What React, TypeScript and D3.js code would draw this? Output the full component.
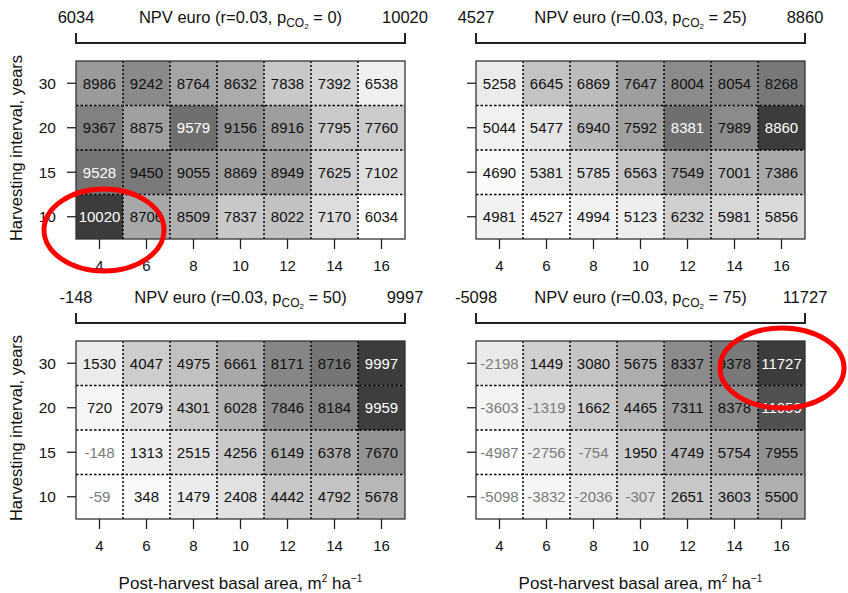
import React from "react";
import * as d3 from "d3";

// chart data
const basalArea = [4, 6, 8, 10, 12, 14, 16];
const intervals = ["30", "20", "15", "10"];
const co2Prices = ["0", "25", "50", "75"];

// rows: 30, 20, 15, 10 years
const npvP0 = [
  [8986, 9242, 8764, 8632, 7838, 7392, 6538],
  [9367, 8875, 9579, 9156, 8916, 7795, 7760],
  [9528, 9450, 9055, 8869, 8949, 7625, 7102],
  [10020, 8706, 8509, 7837, 8022, 7170, 6034],
];
const npvP25 = [
  [5258, 6645, 6869, 7647, 8004, 8054, 8268],
  [5044, 5477, 6940, 7592, 8381, 7989, 8860],
  [4690, 5381, 5785, 6563, 7549, 7001, 7386],
  [4981, 4527, 4994, 5123, 6232, 5981, 5856],
];
const npvP50 = [
  [1530, 4047, 4975, 6661, 8171, 8716, 9997],
  [720, 2079, 4301, 6028, 7846, 8184, 9959],
  [-148, 1313, 2515, 4256, 6149, 6378, 7670],
  [-59, 348, 1479, 2408, 4442, 4792, 5678],
];
const npvP75 = [
  [-2198, 1449, 3080, 5675, 8337, 9378, 11727],
  [-3603, -1319, 1662, 4465, 7311, 8378, 11059],
  [-4987, -2756, -754, 1950, 4749, 5754, 7955],
  [-5098, -3832, -2036, -307, 2651, 3603, 5500],
];

const font = "'Liberation Sans', Arial, sans-serif";

type PanelProps = {
  values: number[][];
  price: string;
  x0: number;
  y0: number;
  showYLabels: boolean;
  showXTitle: boolean;
};

function Panel({ values, price, x0, y0, showYLabels, showXTitle }: PanelProps) {
  const w = 329;
  const h = 178;
  const flat = values.flat();
  const lo = d3.min(flat) as number;
  const hi = d3.max(flat) as number;

  const x = d3.scaleBand<number>().domain(basalArea).range([x0, x0 + w]);
  const y = d3.scaleBand<string>().domain(intervals).range([y0, y0 + h]);
  const t = d3.scaleLinear().domain([lo, hi]).range([0, 1]);
  // grey ramp: near-linear, darkening fast toward the panel maximum
  const grey = (v: number) => {
    const k = t(v);
    const g = Math.round(255 - 120 * k - 75 * Math.pow(k, 6));
    return d3.rgb(g, g, g).toString();
  };
  const txtColor = (v: number) => (v < 0 ? "#7a7a7a" : t(v) >= 0.875 ? "#fff" : "#111");

  const brY = y0 - 18;
  return (
    <g fontFamily={font}>
      {/* header with range bracket */}
      <text x={x0} y={brY - 20} fontSize={16.5} textAnchor="middle" fill="#111">{lo}</text>
      <text x={x0 + w} y={brY - 20} fontSize={16.5} textAnchor="middle" fill="#111">{hi}</text>
      <text x={x0 + w / 2} y={brY - 20} fontSize={16.5} textAnchor="middle" fill="#111">
        NPV euro (r=0.03, p
        <tspan fontSize={12} dy={4}>CO</tspan>
        <tspan fontSize={8} dy={2}>2</tspan>
        <tspan fontSize={16.5} dy={-6}>{" = " + price + ")"}</tspan>
      </text>
      <path d={`M${x0},${brY - 10}V${brY}H${x0 + w}V${brY - 10}`} fill="none" stroke="#222" strokeWidth={2} />

      {/* cells */}
      {values.map((row, i) =>
        row.map((v, j) => (
          <g key={`${i}-${j}`}>
            <rect x={x(basalArea[j])} y={y(intervals[i])} width={x.bandwidth()} height={y.bandwidth()} fill={grey(v)} />
            <text
              x={(x(basalArea[j]) as number) + x.bandwidth() / 2}
              y={(y(intervals[i]) as number) + y.bandwidth() / 2 + 5.5}
              fontSize={15}
              textAnchor="middle"
              fill={txtColor(v)}
            >
              {v}
            </text>
          </g>
        ))
      )}

      {/* dotted grid */}
      {basalArea.slice(1).map((b) => (
        <line key={"v" + b} x1={x(b)} x2={x(b)} y1={y0} y2={y0 + h} stroke="#000" strokeWidth={1.5} strokeDasharray="2,2" />
      ))}
      {intervals.slice(1).map((r) => (
        <line key={"h" + r} x1={x0} x2={x0 + w} y1={y(r)} y2={y(r)} stroke="#000" strokeWidth={1.5} strokeDasharray="2.5,2" />
      ))}
      <rect x={x0} y={y0} width={w} height={h} fill="none" stroke="#333" strokeWidth={1.3} />

      {/* axes */}
      {basalArea.map((b) => {
        const cx = (x(b) as number) + x.bandwidth() / 2;
        return (
          <g key={"xt" + b}>
            <line x1={cx} x2={cx} y1={y0 + h} y2={y0 + h + 10} stroke="#222" strokeWidth={1.3} />
            <text x={cx} y={y0 + h + 32} fontSize={15} textAnchor="middle" fill="#111">{b}</text>
          </g>
        );
      })}
      {intervals.map((r) => {
        const cy = (y(r) as number) + y.bandwidth() / 2;
        return (
          <g key={"yt" + r}>
            <line x1={x0 - 9} x2={x0} y1={cy} y2={cy} stroke="#222" strokeWidth={1.3} />
            {showYLabels && (
              <text x={x0 - 20} y={cy + 5.5} fontSize={15.5} textAnchor="end" fill="#111">{r}</text>
            )}
          </g>
        );
      })}
      {showYLabels && (
        <text transform={`translate(${22},${y0 + h / 2 - 2}) rotate(-90)`} fontSize={16.5} textAnchor="middle" fill="#111">
          Harvesting interval, years
        </text>
      )}
      {showXTitle && (
        <text x={x0 + w / 2} y={y0 + h + 70} fontSize={17} textAnchor="middle" fill="#111">
          Post-harvest basal area, m
          <tspan fontSize={10} dy={-7}>2</tspan>
          <tspan fontSize={17} dy={7}> ha</tspan>
          <tspan fontSize={10} dy={-7}>−1</tspan>
        </text>
      )}
    </g>
  );
}

export default function App() {
  return (
    <svg width={848} height={593} style={{ position: "absolute", left: 0, top: 0, background: "#fff" }}>
      <Panel values={npvP0} price={co2Prices[0]} x0={76} y0={61} showYLabels showXTitle={false} />
      <Panel values={npvP25} price={co2Prices[1]} x0={476} y0={61} showYLabels={false} showXTitle={false} />
      <Panel values={npvP50} price={co2Prices[2]} x0={76} y0={341} showYLabels showXTitle />
      <Panel values={npvP75} price={co2Prices[3]} x0={476} y0={341} showYLabels={false} showXTitle />
      {/* red highlight ellipses */}
      <ellipse cx={104} cy={230} rx={60} ry={41} fill="none" stroke="#f00" strokeWidth={5} />
      <ellipse cx={782} cy={368} rx={62} ry={40} fill="none" stroke="#f00" strokeWidth={5} />
    </svg>
  );
}
